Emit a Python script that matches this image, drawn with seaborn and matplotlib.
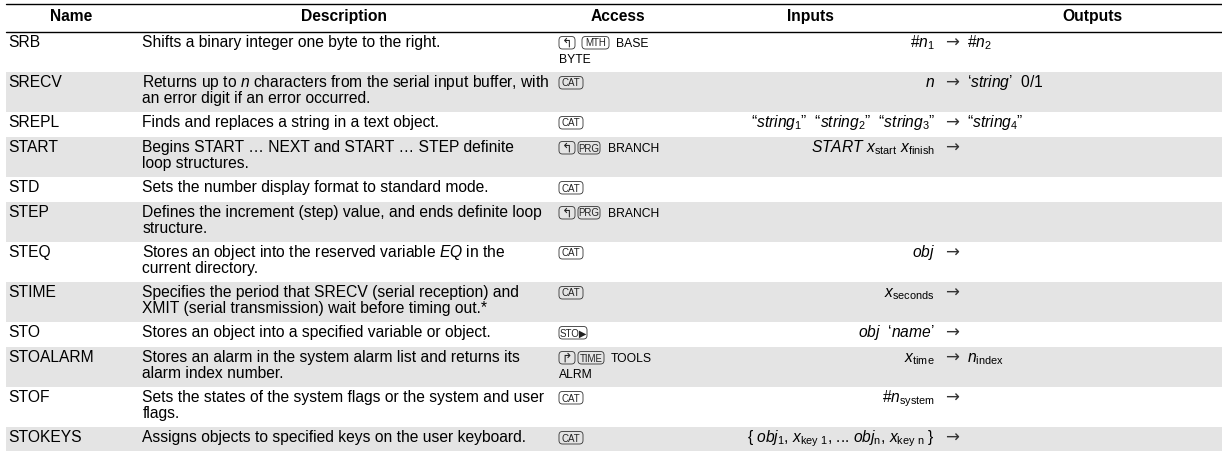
import matplotlib
matplotlib.use("Agg")
import matplotlib.pyplot as plt
from matplotlib.patches import FancyBboxPatch
import pandas as pd
import seaborn as sb

names = ["SRB", "SRECV", "SREPL", "START", "STD", "STEP", "STEQ", "STIME",
         "STO", "STOALARM", "STOF", "STOKEYS"]
descriptions = [
    "Shifts a binary integer one byte to the right.",
    "Returns up to $n$ characters from the serial input buffer, with\nan error digit if an error occurred.",
    "Finds and replaces a string in a text object.",
    "Begins START … NEXT and START … STEP definite\nloop structures.",
    "Sets the number display format to standard mode.",
    "Defines the increment (step) value, and ends definite loop\nstructure.",
    "Stores an object into the reserved variable $EQ$ in the\ncurrent directory.",
    "Specifies the period that SRECV (serial reception) and\nXMIT (serial transmission) wait before timing out.*",
    "Stores an object into a specified variable or object.",
    "Stores an alarm in the system alarm list and returns its\nalarm index number.",
    "Sets the states of the system flags or the system and user\nflags.",
    "Assigns objects to specified keys on the user keyboard.",
]
access_keys = [["↰", "MTH"], ["CAT"], ["CAT"], ["↰", "PRG"], ["CAT"], ["↰", "PRG"],
               ["CAT"], ["CAT"], ["STO▶"], ["↱", "TIME"], ["CAT"], ["CAT"]]
access_text = ["BASE\nBYTE", "", "", "BRANCH", "", "BRANCH", "", "", "", "TOOLS\nALRM", "", ""]
inputs = [
    r"#$n_{1}$", r"$n$", r"“$string_{1}$”  “$string_{2}$”  “$string_{3}$”",
    r"$START\ x_{\mathrm{start}}\ x_{\mathrm{finish}}$", "", "", r"$obj$",
    r"$x_{\mathrm{seconds}}$", r"$obj$  ‘$name$’", r"$x_{\mathrm{time}}$",
    r"#$n_{\mathrm{system}}$",
    r"{ $obj_{1}$, $x_{\mathrm{key\ 1}}$, ... $obj_{\mathrm{n}}$, $x_{\mathrm{key\ n}}$ }",
]
outputs = [
    r"#$n_{2}$", r"‘$string$’  0/1", r"“$string_{4}$”", "", "", "", "", "", "",
    r"$n_{\mathrm{index}}$", "", "",
]
headers = ["Name", "Description", "Access", "Inputs", "Outputs"]

sb.set_theme(style="white")
plt.rcParams["font.family"] = ["Liberation Sans", "DejaVu Sans"]
plt.rcParams["mathtext.fontset"] = "custom"
plt.rcParams["mathtext.rm"] = "Liberation Sans"
plt.rcParams["mathtext.it"] = "Liberation Sans:italic"
plt.rcParams["mathtext.bf"] = "Liberation Sans:bold"

fig, ax = plt.subplots(figsize=(12.22, 4.51), dpi=100)
ax.set_position([0, 0, 1, 1])

fs = 11.25
line_h = 15.4
key_w = {"↰": 16, "↱": 16, "MTH": 27, "CAT": 24, "PRG": 22, "TIME": 26, "STO▶": 28}
key_gap = {"↰": 3, "↱": 3, "MTH": 7, "CAT": 6, "PRG": 8, "TIME": 7, "STO▶": 6}
key_lead = {"MTH": 4}

rules = pd.DataFrame({"x": [6, 1222, 6, 1222], "y": [4.3, 4.3, 31.7, 31.7],
                      "rule": ["top", "top", "head", "head"]})
sb.lineplot(data=rules, x="x", y="y", units="rule", estimator=None, color="black", lw=1.0, ax=ax, legend=False)
ax.set_xlim(0, 1222)
ax.set_ylim(451, 0)
ax.axis("off")

y = 31.5
for i, name in enumerate(names):
    n_lines = max(descriptions[i].count("\n"), access_text[i].count("\n")) + 1
    h = 40 if n_lines == 2 else 25
    if i % 2 == 1:
        ax.axhspan(y, y + h, xmin=6 / 1222, xmax=1, color="#e4e4e4", lw=0, zorder=0)
    yb = y + 15.8
    ax.text(8, yb, name, fontsize=fs, va="baseline", color="black")
    for k, line in enumerate(descriptions[i].split("\n")):
        ax.text(142.5, yb + k * line_h, line, fontsize=fs, va="baseline", color="black")
    kx = 559
    for key in access_keys[i]:
        kx += key_lead.get(key, 0)
        w = key_w[key]
        ax.add_patch(FancyBboxPatch((kx + 3, y + 8), w - 6, 6.5, boxstyle="round,pad=3,rounding_size=3.5",
                                    fc="none", ec="#333333", lw=0.6, zorder=2))
        ax.text(kx + w / 2, y + 15, key, fontsize=7 if len(key) > 1 else 9, ha="center", va="baseline",
                color="#222222")
        kx += w + key_gap[key]
    if access_text[i]:
        parts = access_text[i].split("\n")
        ax.text(kx, yb, parts[0], fontsize=8.7, va="baseline", color="black")
        if len(parts) > 1:
            ax.text(559, yb + line_h, parts[1], fontsize=8.7, va="baseline", color="black")
    if inputs[i]:
        ax.text(935, yb, inputs[i], fontsize=fs, ha="right", va="baseline", color="black")
    if inputs[i] or outputs[i]:
        ax.text(951.5, yb, "→", fontsize=12, family="DejaVu Sans", ha="center", va="baseline", color="#333333")
    if outputs[i]:
        ax.text(967, yb, outputs[i], fontsize=fs, ha="left", va="baseline", color="black")
    y += h

header_x = [71, 344, 617.5, 810, 1092]
for hx, label in zip(header_x, headers):
    ax.text(hx, 21, label, fontsize=fs, fontweight="bold", ha="center", va="baseline", color="black")

fig.savefig("out.png", dpi=100)
